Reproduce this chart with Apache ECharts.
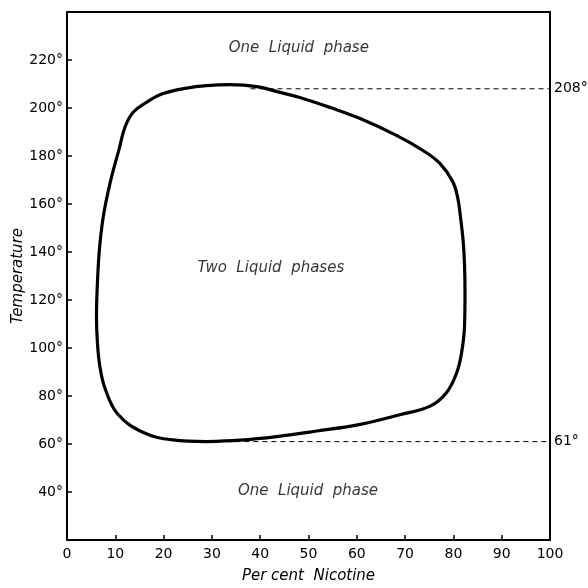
<!DOCTYPE html>
<html>
<head>
<meta charset="utf-8">
<script src="https://cdn.jsdelivr.net/npm/echarts@6/dist/echarts.min.js"></script>
<style>html,body{margin:0;padding:0;background:#fff}#c{width:588px;height:588px}</style>
</head>
<body>
<div id="c"></div>
<script>
// Binodal curve (Per cent nicotine, temperature °C)
const curveX = [28.9,35.8,43.4,51.7,60.7,68.9,75.2,78.6,80.7,81.7,82.3,82.4,82.3,82.0,81.5,80.9,79.9,77.2,73.7,68.3,60.7,54.5,48.2,44.1,39.3,33.7,28.9,24.8,19.9,16.5,13.7,12.0,10.8,8.9,7.5,6.7,6.3,6.1,6.3,6.8,7.9,10.5,15.7,21.9,28.9];
const curveY = [61.0,61.6,63.1,65.4,68.2,72.2,75.8,81.5,89.8,98.1,109.0,123.0,135.0,145.0,154.0,162.5,169.2,176.9,182.3,188.5,195.6,200.2,204.4,206.5,208.9,209.7,209.3,208.3,206.0,202.4,198.2,192.0,183.0,168.6,154.6,140.8,127.1,113.2,102.2,92.4,83.0,72.5,64.9,61.7,61.0];
// Critical solution temperatures
const upperCST = {label: '208°', y: 208, xFrom: 38, xTo: 100};
const lowerCST = {label: '61°', y: 61, xFrom: 33, xTo: 100};
// Region labels
const regionLabels = [
  {text: 'One  Liquid  phase', x: 48, y: 225},
  {text: 'Two  Liquid  phases', x: 42.2, y: 133.4},
  {text: 'One  Liquid  phase', x: 49.9, y: 40.5}
];
const xTicks = [0,10,20,30,40,50,60,70,80,90,100];
const yTicks = [40,60,80,100,120,140,160,180,200,220];

const font = 'DejaVu Sans';
const chart = echarts.init(document.getElementById('c'));
function dashSeries(d) {
  return {
    type: 'line', data: [[d.xFrom, d.y], [d.xTo, d.y]], symbol: 'none', silent: true,
    lineStyle: {color: '#000', width: 1, type: [5, 4]},
    endLabel: {show: true, formatter: d.label, color: '#000', fontFamily: font, fontSize: 14, distance: 4}
  };
}
chart.setOption({
  animation: false,
  backgroundColor: '#fff',
  grid: {left: 67, right: 38, top: 12, bottom: 48, containLabel: false, outerBoundsMode: 'none',
    show: true, borderColor: '#000', borderWidth: 2, backgroundColor: 'transparent'},
  xAxis: {
    type: 'value', min: 0, max: 100, interval: 10,
    name: 'Per cent  Nicotine', nameLocation: 'middle', nameGap: 29, nameMoveOverlap: false,
    nameTextStyle: {fontFamily: font, fontStyle: 'italic', fontSize: 15, color: '#000'},
    axisLine: {show: true, lineStyle: {color: '#000', width: 2}},
    axisTick: {show: true, inside: true, length: 5, lineStyle: {color: '#000', width: 1.5}},
    axisLabel: {color: '#000', fontFamily: font, fontSize: 14, margin: 7,
      formatter: v => xTicks.includes(v) ? String(v) : ''},
    splitLine: {show: false}
  },
  yAxis: {
    type: 'value', min: 20, max: 240, interval: 20,
    name: 'Temperature', nameLocation: 'middle', nameGap: 41, nameRotate: 90, nameMoveOverlap: false,
    nameTextStyle: {fontFamily: font, fontStyle: 'italic', fontSize: 15, color: '#000'},
    axisLine: {show: true, lineStyle: {color: '#000', width: 2}},
    axisTick: {show: true, inside: true, length: 5, lineStyle: {color: '#000', width: 1.5}},
    axisLabel: {color: '#000', fontFamily: font, fontSize: 14, margin: 4,
      formatter: v => yTicks.includes(v) ? v + '°' : ''},
    splitLine: {show: false}
  },
  series: [
    {
      type: 'line', data: curveX.map((x, i) => [x, curveY[i]]), symbol: 'none', smooth: 0.4, silent: true,
      lineStyle: {color: '#000', width: 3.2}
    },
    dashSeries(upperCST),
    dashSeries(lowerCST),
    {
      type: 'scatter', symbolSize: 0, silent: true,
      data: regionLabels.map(r => ({value: [r.x, r.y], name: r.text})),
      label: {show: true, position: 'inside', formatter: p => p.name, color: '#000',
        fontFamily: font, fontStyle: 'italic', fontSize: 15}
    }
  ]
});
</script>
</body>
</html>
